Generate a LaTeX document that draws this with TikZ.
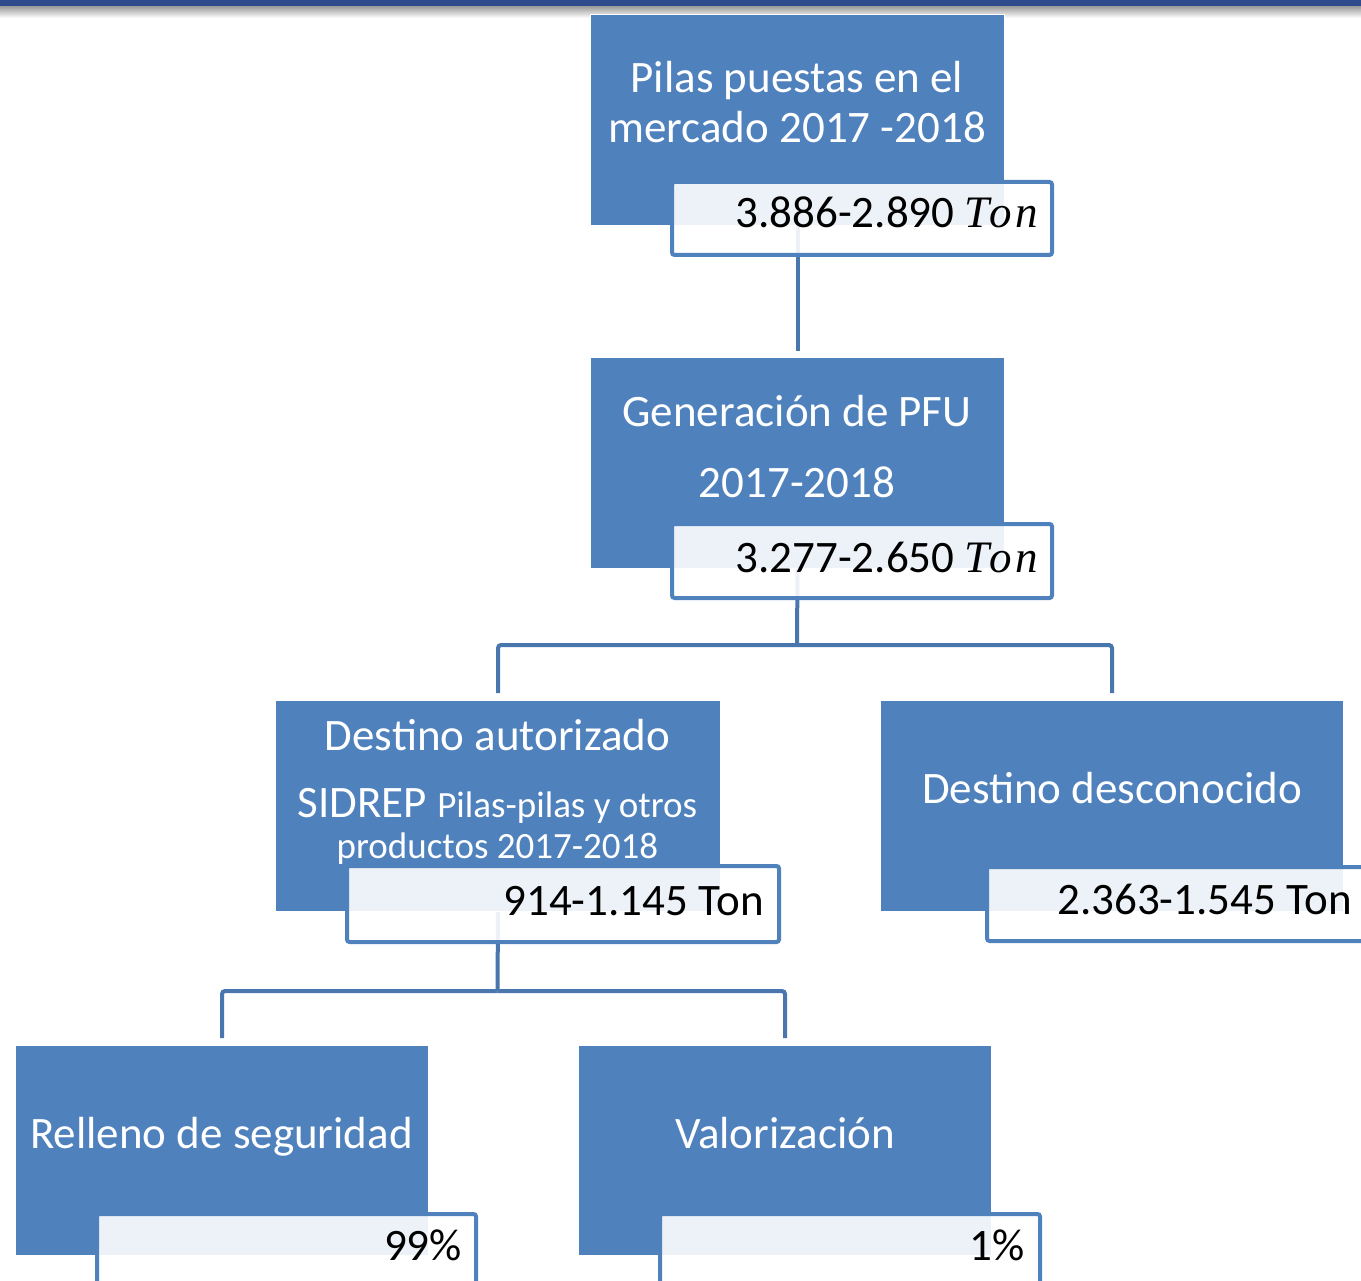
\documentclass[tikz,border=0pt]{standalone}
\usepackage{fontspec}
\setmainfont{Carlito}
\newfontfamily\tonfnt{Liberation Serif}[LetterSpace=8]
\definecolor{boxblue}{HTML}{4F81BD}
\definecolor{linkblue}{HTML}{4A76AE}
\definecolor{barblue}{HTML}{2E4B8B}
\newcommand\fnta{\fontsize{45}{50}\selectfont}
\newcommand\fntb{\fontsize{37}{43}\selectfont}
\tikzset{
  bluebox/.style={fill=boxblue, draw=white, line width=1pt, anchor=north west, inner sep=0pt},
  valbox/.style={fill=white, fill opacity=0.9, draw=boxblue, draw opacity=1, line width=4pt,
                 rounded corners=2.5pt, anchor=north west, inner sep=0pt},
  conn/.style={draw=linkblue, line width=4pt},
  ttl/.style={text=white, font=\fnta, inner sep=0pt, anchor=base},
  ttlsmall/.style={text=white, font=\fntb, inner sep=0pt, anchor=base},
  val/.style={text=black, font=\fnta, inner sep=0pt, anchor=base east},
}
\begin{document}
\begin{tikzpicture}[x=1pt,y=-1pt]
\useasboundingbox (0,0) rectangle (1361,1281);
\clip (0,0) rectangle (1361,1281);
% top bar
\shade[top color=black!40, bottom color=white] (0,6) rectangle (1361,18);
\fill[barblue] (0,0) rectangle (1361,6.5);
% blue boxes
\node[bluebox, minimum width=414pt, minimum height=211pt] (b1) at (590,14) {};
\node[bluebox, minimum width=414pt, minimum height=211pt] (b2) at (590,357) {};
\node[bluebox, minimum width=445pt, minimum height=211pt] (b3) at (275,700) {};
\node[bluebox, minimum width=463pt, minimum height=211pt] (b4) at (880,700) {};
\node[bluebox, minimum width=413pt, minimum height=210pt] (b5) at (15,1045) {};
\node[bluebox, minimum width=413pt, minimum height=210pt] (b6) at (578,1045) {};
% connectors
\coordinate (j1) at (797,645);
\coordinate (j2) at (497.5,991);
\draw[conn] (b1.south) -- ([yshift=6pt]b2.north);
\draw[conn] (b2.south) -- (j1);
\draw[conn, rounded corners=3pt] (j1) -| ([yshift=7pt]b3.north);
\draw[conn, rounded corners=3pt] (j1) -| ([yshift=7pt]b4.north);
\draw[conn] (b3.south) -- (j2);
\draw[conn, rounded corners=3pt] (j2) -| ([yshift=7pt]b5.north);
\draw[conn, rounded corners=3pt] (j2) -| ([yshift=7pt]b6.north);
% value boxes
\node[valbox, minimum width=380pt, minimum height=73pt] (v1) at (670,180) {};
\node[valbox, minimum width=380pt, minimum height=74pt] (v2) at (670,522) {};
\node[valbox, minimum width=432pt, minimum height=76pt] (v3) at (345,864) {};
\node[valbox, minimum width=384pt, minimum height=74pt] (v4) at (985,865) {};
\node[valbox, minimum width=379pt, minimum height=76pt] (v5) at (95,1212) {};
\node[valbox, minimum width=380pt, minimum height=76pt] (v6) at (658,1212) {};
% titles
\node[ttl] (t1a) at (797,93) {Pilas puestas en el};
\node[ttl] (t1b) at (797,143) {mercado 2017 -2018};
\node[ttl] (t2a) at (797,427) {Generación de PFU};
\node[ttl] (t2b) at (797,497) {2017-2018};
\node[ttl] (t3a) at (497.5,750) {Destino autorizado};
\node[ttl] (t3b) at (497.5,817) {SIDREP {\fntb Pilas-pilas y otros}};
\node[ttlsmall] (t3c) at (497.5,858) {productos 2017-2018};
\node[ttl] (t4) at (1112,803) {Destino desconocido};
\node[ttl] (t5) at (221.5,1148) {Relleno de seguridad};
\node[ttl] (t6) at (785,1148) {Valorización};
% values
\node[val] (n1) at (1038,228) {3.886-2.890 {\tonfnt\itshape Ton}};
\node[val] (n2) at (1038,572) {3.277-2.650 {\tonfnt\itshape Ton}};
\node[val] (n3) at (764,915) {914-1.145 Ton};
\node[val] (n4) at (1352,914) {2.363-1.545 Ton};
\node[val] (n5) at (462,1260) {99\%};
\node[val] (n6) at (1025,1260) {1\%};
\end{tikzpicture}
\end{document}
